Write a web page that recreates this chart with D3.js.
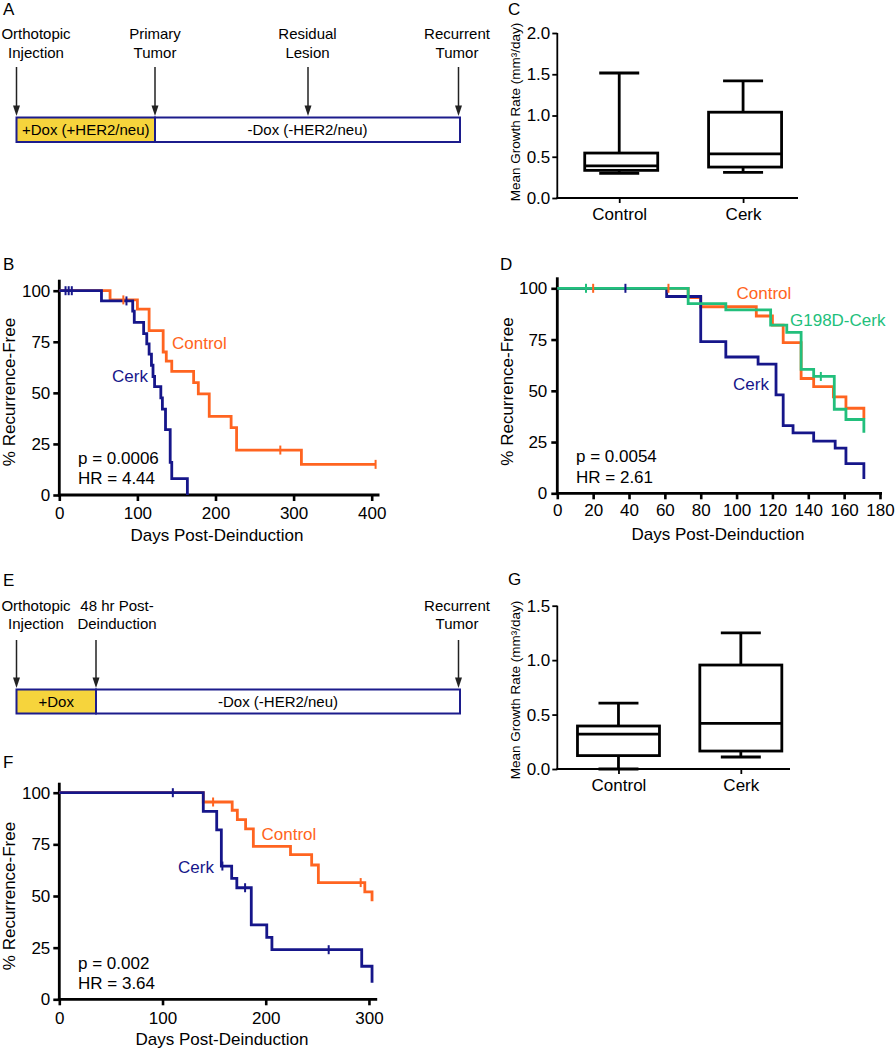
<!DOCTYPE html>
<html><head><meta charset="utf-8">
<script src="https://cdn.jsdelivr.net/npm/d3@7"></script>
<style>
body{margin:0;background:#fff}
svg{display:block;font-family:"Liberation Sans",Arial,Helvetica,sans-serif}
</style></head><body>
<svg id="fig" width="896" height="1050"></svg>
<script>
// ================= DATA =================
// Timelines
const timelineALabels = [["Orthotopic","Injection"],["Primary","Tumor"],["Residual","Lesion"],["Recurrent","Tumor"]];
const timelineASegments = ["+Dox (+HER2/neu)","-Dox (-HER2/neu)"];
const timelineELabels = [["Orthotopic","Injection"],["48 hr Post-","Deinduction"],["Recurrent","Tumor"]];
const timelineESegments = ["+Dox","-Dox (-HER2/neu)"];

// Kaplan-Meier common
const kmYTicks = [0,25,50,75,100];
const kmSeriesNames = ["Control","Cerk","G198D-Cerk"];

// Panel B
const bXTicks = [0,100,200,300,400];
const bControlTimes = [0,65,100,115,133,137,144,172,178,192,220,227,310,405];
const bControlSurv  = [100,95.5,91,80.5,70,65.5,60.5,55,49.5,38.5,33,22,15,15];
const bControlCensorT = [82,283,405];
const bControlCensorS = [95.5,22,15];
const bCerkTimes = [0,54,94,96,108,112,115,118,120,122,130,132,136,142,144,164];
const bCerkSurv  = [100,95,90,84.5,79,74,69,63.5,58,53,47.5,42,32,16,8,0];
const bCerkCensorT = [8,12,16,86];
const bCerkCensorS = [100,100,100,95];
const bStats = ["p = 0.0006","HR = 4.44"];

// Panel D
const dXTicks = [0,20,40,60,80,100,120,140,160,180];
const dControlTimes = [0,73,80,111,120,126,136,143,154,161,171];
const dControlSurv  = [100,95.5,91,86.5,82,73.5,56,52,47,41.5,36.5];
const dControlCensorT = [20,62];
const dControlCensorS = [100,100];
const dMutTimes = [0,73,94,119,128,136,143,154.5,161,171];
const dMutSurv  = [100,92.5,89.5,82,78.5,60.5,57,41,36,29.5];
const dMutCensorT = [16,147];
const dMutCensorS = [100,57];
const dCerkTimes = [0,61,80,94,112,122,126,131.5,143,155,161,171];
const dCerkSurv  = [100,96,74,66.5,63,48,33,29.5,25.5,22,14.5,7];
const dCerkCensorT = [38];
const dCerkCensorS = [100];
const dStats = ["p = 0.0054","HR = 2.61"];

// Panel F
const fXTicks = [0,100,200,300];
const fControlTimes = [0,139.5,167.5,172.5,180.5,188,224,244.5,251,296,303];
const fControlSurv  = [100,95.5,91.5,87,82.5,74,70,65,56.5,52,47.5];
const fControlCensorT = [149,292];
const fControlCensorS = [95.5,56.5];
const fCerkTimes = [0,139.5,152.5,157,167,172,186,201,206,293,303];
const fCerkSurv  = [100,91,82,64.5,58.5,54,36,30,24,16,8];
const fCerkCensorT = [110,158,180,261];
const fCerkCensorS = [100,64.5,54,24];
const fStats = ["p = 0.002","HR = 3.64"];

// Box plots
const boxCategories = ["Control","Cerk"];
const cYTicks = [0,0.5,1.0,1.5,2.0];
const cMin = [0.30,0.31];
const cQ1  = [0.335,0.375];
const cMed = [0.39,0.535];
const cQ3  = [0.545,1.04];
const cMax = [1.515,1.42];
const gYTicks = [0,0.5,1.0,1.5];
const gMin = [0.0,0.11];
const gQ1  = [0.123,0.165];
const gMed = [0.32,0.42];
const gQ3  = [0.395,0.955];
const gMax = [0.605,1.25];

// ================= DRAWING =================
const ORANGE="#ff6420", NAVY="#16168a", GREEN="#22bf7c", YELLOW="#f6d43c", BOXNAVY="#1c1c8c";
const svg = d3.select("#fig");

function panelLetter(x,y,t){
  svg.append("text").attr("x",x).attr("y",y).attr("font-size",17).text(t);
}
panelLetter(3,15,"A"); panelLetter(3,270,"B"); panelLetter(508,15,"C");
panelLetter(500,270,"D"); panelLetter(3,586,"E"); panelLetter(3,768,"F"); panelLetter(508,585,"G");

function timeline(o){
  const g = svg.append("g").attr("font-size",15);
  o.labels.forEach((lab,i)=>{
    g.append("text").attr("x",o.labelX[i]).attr("y",o.labelY1).attr("text-anchor","middle").text(lab[0]);
    g.append("text").attr("x",o.labelX[i]).attr("y",o.labelY1+18.5).attr("text-anchor","middle").text(lab[1]);
    const ax=o.arrowX[i];
    g.append("line").attr("x1",ax).attr("x2",ax).attr("y1",o.arrowTop).attr("y2",o.boxTop-9)
      .attr("stroke","#222").attr("stroke-width",1.5);
    g.append("path").attr("d",`M${ax-3.5},${o.boxTop-12}L${ax+3.5},${o.boxTop-12}L${ax},${o.boxTop-1.5}Z`).attr("fill","#222");
  });
  const bh=o.boxBottom-o.boxTop;
  g.append("rect").attr("x",o.boxLeft).attr("y",o.boxTop).attr("width",o.split-o.boxLeft).attr("height",bh)
    .attr("fill",YELLOW).attr("stroke",BOXNAVY).attr("stroke-width",2);
  g.append("rect").attr("x",o.split).attr("y",o.boxTop).attr("width",o.boxRight-o.split).attr("height",bh)
    .attr("fill","#fff").attr("stroke",BOXNAVY).attr("stroke-width",2);
  const ty=o.boxTop+bh/2+5.5;
  g.append("text").attr("x",(o.boxLeft+o.split)/2).attr("y",ty).attr("text-anchor","middle").text(o.segments[0]);
  g.append("text").attr("x",(o.split+o.boxRight)/2).attr("y",ty).attr("text-anchor","middle").text(o.segments[1]);
}
timeline({labels:timelineALabels, segments:timelineASegments, labelX:[36,155,307.5,457], arrowX:[16.5,155,308,458.5],
  labelY1:39, arrowTop:67, boxTop:117.5, boxBottom:142, boxLeft:16.5, boxRight:460, split:155});
timeline({labels:timelineELabels, segments:timelineESegments, labelX:[36,117,457], arrowX:[16.5,96,458.5],
  labelY1:610.5, arrowTop:640, boxTop:689.5, boxBottom:713.5, boxLeft:16.5, boxRight:460, split:96});

function styleAxis(sel, fs, sw){
  sel.select(".domain").remove();
  sel.selectAll(".tick line").attr("stroke","#000").attr("stroke-width",sw);
  sel.selectAll(".tick text").attr("font-size",fs).attr("fill","#000").attr("font-family",'"Liberation Sans",Arial,sans-serif');
}

function km(o){
  const g = svg.append("g");
  const x = d3.scaleLinear().domain(o.xDomain).range(o.xRange);
  const y = d3.scaleLinear().domain([0,100]).range(o.yRange);
  const x0=x(0), y0=y(0);
  // axes
  const ya = g.append("g").attr("transform",`translate(${x0},0)`)
    .call(d3.axisLeft(y).tickValues(kmYTicks).tickSize(6).tickPadding(o.yPad));
  styleAxis(ya,17,2.6);
  const xa = g.append("g").attr("transform",`translate(0,${y0})`)
    .call(d3.axisBottom(x).tickValues(o.xTicks).tickSize(6).tickPadding(o.xPad));
  styleAxis(xa,17,2.6);
  g.append("line").attr("x1",x0).attr("x2",x0).attr("y1",y0+1.3).attr("y2",y(100)-o.yOver).attr("stroke","#000").attr("stroke-width",2.8);
  g.append("line").attr("x1",x0-1.4).attr("x2",x(o.xDomain[1])+o.xOver).attr("y1",y0).attr("y2",y0).attr("stroke","#000").attr("stroke-width",2.8);
  // curves
  const line = d3.line().x(d=>x(d[0])).y(d=>y(d[1])).curve(d3.curveStepAfter);
  o.series.forEach(s=>{
    const pts = s.t.map((t,i)=>[t,s.s[i]]);
    g.append("path").attr("d",line(pts)).attr("fill","none").attr("stroke",s.color).attr("stroke-width",2.8)
      .attr("stroke-linejoin","miter");
  });
  o.series.forEach(s=>{
    s.ct.forEach((t,i)=>{
      g.append("line").attr("x1",x(t)).attr("x2",x(t)).attr("y1",y(s.cs[i])-4.5).attr("y2",y(s.cs[i])+4.5)
        .attr("stroke",s.color).attr("stroke-width",2);
    });
  });
  // labels
  o.labels.forEach(l=>{
    g.append("text").attr("x",l.x).attr("y",l.y).attr("font-size",17).attr("fill",l.color).text(l.text);
  });
  g.append("text").attr("x",o.statX).attr("y",o.statY).attr("font-size",17).text(o.stats[0]);
  g.append("text").attr("x",o.statX).attr("y",o.statY+20.5).attr("font-size",17).text(o.stats[1]);
  g.append("text").attr("transform",`translate(${o.ylabX},${o.ylabY}) rotate(-90)`).attr("text-anchor","middle")
    .attr("font-size",17).text("% Recurrence-Free");
  g.append("text").attr("x",o.xlabX).attr("y",o.xlabY).attr("text-anchor","middle").attr("font-size",17).text("Days Post-Deinduction");
}

km({xDomain:[0,410], xRange:[59.3,379.5], yRange:[495,290.7], xTicks:bXTicks, yPad:3, xPad:6, yOver:11, xOver:0,
  series:[
    {t:bControlTimes,s:bControlSurv,ct:bControlCensorT,cs:bControlCensorS,color:ORANGE},
    {t:bCerkTimes,s:bCerkSurv,ct:bCerkCensorT,cs:bCerkCensorS,color:NAVY}],
  labels:[{x:172,y:348.5,text:kmSeriesNames[0],color:ORANGE},{x:112,y:382,text:kmSeriesNames[1],color:NAVY}],
  stats:bStats, statX:78, statY:463.5, ylabX:15, ylabY:392, xlabX:217, xlabY:541});

km({xDomain:[0,180], xRange:[557.3,880], yRange:[493.3,288.3], xTicks:dXTicks, yPad:4, xPad:5, yOver:11, xOver:2,
  series:[
    {t:dControlTimes,s:dControlSurv,ct:dControlCensorT,cs:dControlCensorS,color:ORANGE},
    {t:dCerkTimes,s:dCerkSurv,ct:dCerkCensorT,cs:dCerkCensorS,color:NAVY},
    {t:dMutTimes,s:dMutSurv,ct:dMutCensorT,cs:dMutCensorS,color:GREEN}],
  labels:[{x:736.5,y:298.5,text:kmSeriesNames[0],color:ORANGE},{x:790,y:326,text:kmSeriesNames[2],color:GREEN},
          {x:733,y:390,text:kmSeriesNames[1],color:NAVY}],
  stats:dStats, statX:576, statY:462, ylabX:513, ylabY:391.5, xlabX:718, xlabY:540});

km({xDomain:[0,308], xRange:[59.3,377.2], yRange:[999.3,792.7], xTicks:fXTicks, yPad:3, xPad:7, yOver:10, xOver:0,
  series:[
    {t:fControlTimes,s:fControlSurv,ct:fControlCensorT,cs:fControlCensorS,color:ORANGE},
    {t:fCerkTimes,s:fCerkSurv,ct:fCerkCensorT,cs:fCerkCensorS,color:NAVY}],
  labels:[{x:261.5,y:840,text:kmSeriesNames[0],color:ORANGE},{x:178,y:873,text:kmSeriesNames[1],color:NAVY}],
  stats:fStats, statX:78, statY:968.5, ylabX:15, ylabY:896, xlabX:222, xlabY:1045});

function boxPanel(o){
  const g = svg.append("g");
  const x = d3.scalePoint().domain(boxCategories).range(o.xRange).padding(0.5);
  const y = d3.scaleLinear().domain(o.yDomain).range(o.yRange);
  const x0=o.xRange[0], y0=y(0);
  const ya = g.append("g").attr("transform",`translate(${x0},0)`)
    .call(d3.axisLeft(y).tickValues(o.yTicks).tickSize(5).tickPadding(o.yPad).tickFormat(d3.format(".1f")));
  styleAxis(ya,17,1.8);
  const xa = g.append("g").attr("transform",`translate(0,${y0})`)
    .call(d3.axisBottom(x).tickSize(5).tickPadding(5));
  styleAxis(xa,17,1.8);
  g.append("line").attr("x1",x0).attr("x2",x0).attr("y1",y0+0.9).attr("y2",y(o.yDomain[1])).attr("stroke","#000").attr("stroke-width",1.8);
  g.append("line").attr("x1",x0-0.9).attr("x2",o.axisEnd).attr("y1",y0).attr("y2",y0).attr("stroke","#000").attr("stroke-width",1.8);
  const bw=o.boxW, cw=40, sw=2.8;
  boxCategories.forEach((c,i)=>{
    const cx=x(c);
    g.append("line").attr("x1",cx).attr("x2",cx).attr("y1",y(o.max[i])).attr("y2",y(o.q3[i])).attr("stroke","#000").attr("stroke-width",sw);
    g.append("line").attr("x1",cx).attr("x2",cx).attr("y1",y(o.q1[i])).attr("y2",y(o.min[i])).attr("stroke","#000").attr("stroke-width",sw);
    g.append("line").attr("x1",cx-cw/2).attr("x2",cx+cw/2).attr("y1",y(o.max[i])).attr("y2",y(o.max[i])).attr("stroke","#000").attr("stroke-width",sw);
    g.append("line").attr("x1",cx-cw/2).attr("x2",cx+cw/2).attr("y1",y(o.min[i])).attr("y2",y(o.min[i])).attr("stroke","#000").attr("stroke-width",sw);
    g.append("rect").attr("x",cx-bw/2+o.boxShift).attr("y",y(o.q3[i])).attr("width",bw).attr("height",y(o.q1[i])-y(o.q3[i]))
      .attr("fill","#fff").attr("stroke","#000").attr("stroke-width",sw);
    g.append("line").attr("x1",cx-bw/2+o.boxShift).attr("x2",cx+bw/2+o.boxShift).attr("y1",y(o.med[i])).attr("y2",y(o.med[i])).attr("stroke","#000").attr("stroke-width",sw);
  });
  g.append("text").attr("transform",`translate(${o.ylabX},${o.ylabY}) rotate(-90)`).attr("text-anchor","middle")
    .attr("font-size",13.5).text("Mean Growth Rate (mm³/day)");
}
boxPanel({xRange:[557.3,805], yDomain:[0,2], yRange:[198,33], yTicks:cYTicks, yPad:2, axisEnd:798, boxW:73, boxShift:2,
  min:cMin,q1:cQ1,med:cMed,q3:cQ3,max:cMax, ylabX:520, ylabY:112});
boxPanel({xRange:[557.3,802], yDomain:[0,1.5], yRange:[769,605.7], yTicks:gYTicks, yPad:2, axisEnd:790, boxW:82, boxShift:0,
  min:gMin,q1:gQ1,med:gMed,q3:gQ3,max:gMax, ylabX:520, ylabY:690});
</script>
</body></html>
